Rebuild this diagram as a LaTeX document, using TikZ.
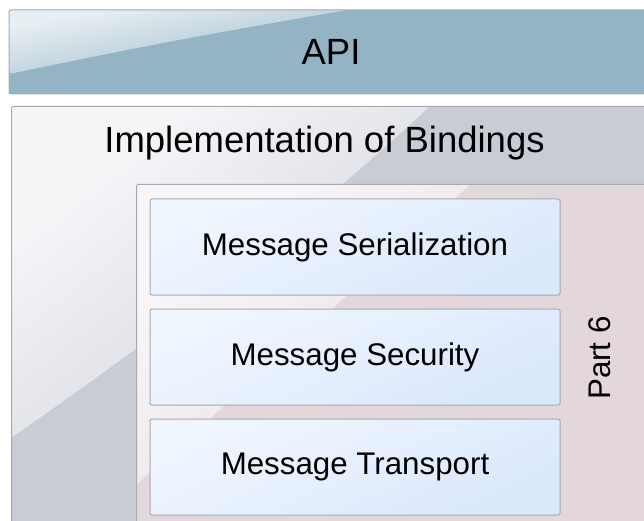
\documentclass[tikz,border=0pt]{standalone}
\usepackage{fontspec}
\setmainfont{Liberation Sans}
\usetikzlibrary{positioning}
\definecolor{apiblue}{RGB}{148,180,198}
\definecolor{apigloss}{RGB}{232,239,243}
\definecolor{apiglossend}{RGB}{100,146,170}
\definecolor{implgray}{RGB}{201,204,213}
\definecolor{implgloss}{RGB}{244,245,247}
\definecolor{implglossend}{RGB}{186,190,202}
\definecolor{partpink}{RGB}{227,215,220}
\definecolor{partgloss}{RGB}{249,246,247}
\definecolor{partglossend}{RGB}{221,208,214}
\definecolor{msgtop}{RGB}{240,246,254}
\definecolor{msgbottom}{RGB}{218,232,252}
\definecolor{edgegray}{RGB}{165,170,176}
\newcommand{\bigfont}{\fontsize{36.5}{42}\selectfont}
\newcommand{\msgfont}{\fontsize{31.3}{36}\selectfont}

\tikzset{
  layerbox/.style={draw=edgegray,line width=1pt,rounded corners=2pt,inner sep=0pt},
  msgbox/.style={draw=edgegray,line width=1pt,rounded corners=2pt,inner sep=0pt,
    minimum width=410pt,minimum height=96pt,font=\msgfont,
    top color=msgtop,bottom color=msgbottom,shading angle=25},
  boxtitle/.style={inner sep=0pt,font=\bigfont}
}

\begin{document}
\begin{tikzpicture}[x=1pt,y=-1pt]
  \useasboundingbox (0,0) rectangle (644,521);
  \clip (0,0) rectangle (644,521);

  % API layer
  \node[layerbox,fill=apiblue,font=\bigfont,minimum width=644pt,minimum height=84pt,
    path picture={\shade[top color=apigloss,bottom color=apiglossend,shading angle=11]
      (path picture bounding box.north west) -- ++(338pt,0pt)
      .. controls ++(-150pt,-26pt) and ++(150pt,31pt) .. ++(-338pt,-64pt) -- cycle;}]
    (api) at (331,52) {API};

  % bindings layer
  \node[layerbox,fill=implgray,anchor=north west,minimum width=660pt,minimum height=440pt,
    path picture={\shade[top color=implgloss,bottom color=implglossend,shading angle=38]
      (path picture bounding box.north west) -- ++(418pt,0pt)
      .. controls ++(-140pt,-130pt) and ++(130pt,90pt) .. ++(-418pt,-331pt) -- cycle;}]
    (impl) at (11,106) {};
  \node[boxtitle] (impltitle) at (324.5,143) {Implementation of Bindings};

  % part 6
  \node[layerbox,fill=partpink,anchor=north west,minimum width=540pt,minimum height=360pt,
    path picture={\shade[top color=partgloss,bottom color=partglossend,shading angle=40]
      (path picture bounding box.north west) -- ++(334pt,0pt) -- ++(-334pt,-300pt) -- cycle;}]
    (part) at (136,184) {};
  \node[inner sep=0pt,font=\msgfont,rotate=90] (parttitle) at (600,358) {Part 6};

  \node[msgbox] (ser) at (355,247) {Message Serialization};
  \node[msgbox,below=13pt of ser] (sec) {Message Security};
  \node[msgbox,below=13pt of sec] (tra) {Message Transport};
\end{tikzpicture}
\end{document}
